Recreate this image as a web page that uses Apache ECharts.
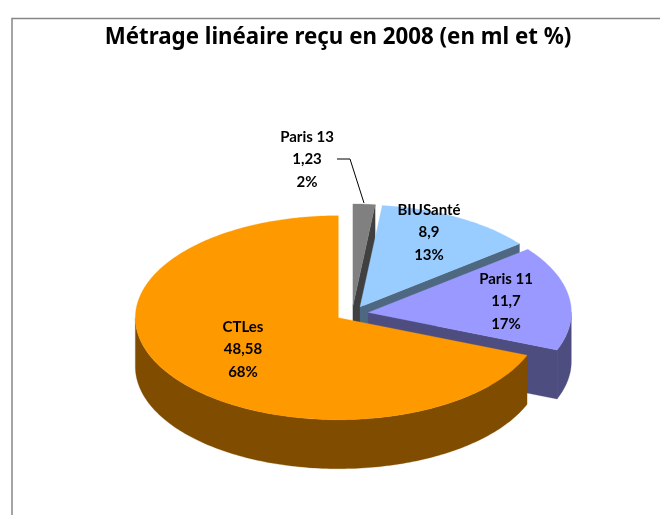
<!DOCTYPE html>
<html>
<head>
<meta charset="utf-8">
<style>html,body{margin:0;padding:0;background:#fff}#c{width:660px;height:515px}</style>
<script src="https://cdn.jsdelivr.net/npm/echarts@6/dist/echarts.min.js"></script>
</head>
<body>
<div id="c"></div>
<script>
// Data (clockwise from 12 o'clock)
const categories = ['Paris 13', 'BIUSanté', 'Paris 11', 'CTLes'];
const values = [1.23, 8.9, 11.7, 48.58];
const percents = [2, 13, 17, 68];
const titleText = 'Métrage linéaire reçu en 2008 (en ml et %)';

// Styles and layout
const topColors = ['#808080', '#99CCFF', '#9999FF', '#FF9900'];
const wallColors = ['#404040', '#4D6880', '#4D4D80', '#804D00'];
const labelAt = [[307, 159.5], [429, 232.5], [506, 301.5], [243, 349.5]];
const leader = [[[337, 159], [350, 159], [364, 203]], null, null, null];
const pie = { cx: 352, cy: 313.5, rx: 203, ry: 102, depth: 49, exX: 16.5, exY: 7.5 };

const total = values.reduce((a, b) => a + b, 0);
const rad = d => d * Math.PI / 180;

function renderSlice(params, api) {
  const i = params.dataIndex;
  const val = api.value(0);
  let before = 0;
  for (let k = 0; k < i; k++) before += values[k];
  const a0 = before / total * 360;
  const a1 = (before + val) / total * 360;
  const mid = (a0 + a1) / 2;
  const ox = pie.cx + pie.exX * Math.sin(rad(mid));
  const oy = pie.cy - pie.exY * Math.cos(rad(mid));
  const at = (t, drop) => [ox + pie.rx * Math.sin(rad(t)), oy - pie.ry * Math.cos(rad(t)) + (drop || 0)];
  const arc = (from, to, drop) => {
    const n = Math.max(2, Math.ceil(Math.abs(to - from)));
    const out = [];
    for (let s = 0; s <= n; s++) out.push(at(from + (to - from) * s / n, drop));
    return out;
  };
  const poly = (points, fill) => ({
    type: 'polygon',
    shape: { points },
    style: { fill, stroke: fill, lineWidth: 0.3 }
  });
  const children = [];
  const wall = wallColors[i];
  const d = pie.depth;
  // radial end face, visible only when turned to the viewer
  if (Math.cos(rad(a1 + 90)) < 0) {
    children.push(poly([[ox, oy], at(a1), at(a1, d), [ox, oy + d]], wall));
  }
  // outer rim, front half only
  const r0 = Math.max(a0, 90), r1 = Math.min(a1, 270);
  if (r1 > r0) {
    children.push(poly(arc(r0, r1, 0).concat(arc(r1, r0, d)), wall));
  }
  // top face
  children.push(poly([[ox, oy]].concat(arc(a0, a1, 0)), topColors[i]));
  return { type: 'group', children };
}

function renderLabel(params, api) {
  const i = params.dataIndex;
  const children = [{
    type: 'text',
    x: labelAt[i][0],
    y: labelAt[i][1],
    style: {
      text: categories[i] + '\n' + String(api.value(0)).replace('.', ',') + '\n' + percents[i] + '%',
      fill: '#000',
      font: 'bold 15px Lato, sans-serif',
      lineHeight: 22.5,
      align: 'center',
      verticalAlign: 'middle'
    }
  }];
  if (leader[i]) {
    children.push({
      type: 'polyline',
      shape: { points: leader[i] },
      style: { stroke: '#000', lineWidth: 1, fill: null }
    });
  }
  return { type: 'group', children };
}

const chart = echarts.init(document.getElementById('c'), null, { renderer: 'canvas' });
chart.setOption({
  animation: false,
  backgroundColor: '#fff',
  title: {
    text: titleText,
    left: 333,
    top: 22,
    textAlign: 'center',
    textStyle: { fontFamily: '"Noto Sans", sans-serif', fontWeight: 'bold', fontSize: 22.3, color: '#000' }
  },
  graphic: [{
    type: 'rect',
    shape: { x: 12, y: 18.5, width: 700, height: 600 },
    style: { fill: 'none', stroke: '#868686', lineWidth: 1.5 },
    silent: true
  }],
  series: [
    {
      type: 'custom',
      coordinateSystem: 'none',
      renderItem: renderSlice,
      data: values.map((v, i) => ({ name: categories[i], value: [v] })),
      z: 2
    },
    {
      type: 'custom',
      coordinateSystem: 'none',
      renderItem: renderLabel,
      data: values.map((v, i) => ({ name: categories[i], value: [v] })),
      z: 3
    }
  ]
});
</script>
</body>
</html>
